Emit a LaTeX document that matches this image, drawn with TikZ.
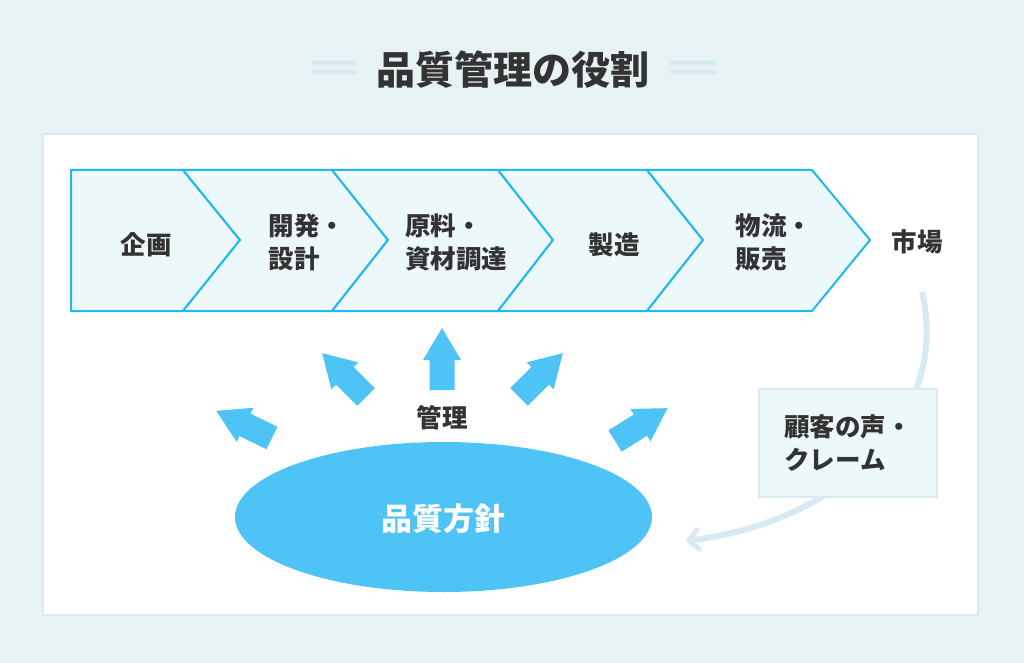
\documentclass[tikz,border=0pt]{standalone}
\usepackage{fontspec}
\setmainfont{Noto Sans CJK JP}
\usetikzlibrary{arrows.meta}
\definecolor{bgteal}{HTML}{E6F2F3}
\definecolor{panelline}{HTML}{D8ECEF}
\definecolor{chevline}{HTML}{22B8EC}
\definecolor{chevfill}{HTML}{EDF8FA}
\definecolor{skyblue}{HTML}{4EC3F6}
\definecolor{paleblue}{HTML}{D5EAF1}
\definecolor{inkgray}{HTML}{333333}
\tikzset{
  chev/.style={draw=chevline, fill=chevfill, line width=2pt, line join=miter},
  steptext/.style={text=inkgray, font=\bfseries\fontsize{25.5}{33}\selectfont, align=left, inner sep=0pt},
  blockarrow/.style={fill=skyblue},
  feedback/.style={draw=paleblue, line width=6pt, -{Straight Barb[length=10pt, width=22pt, line width=5pt]}},
}
\newcommand{\blockarrowat}[2]{%
  \fill[blockarrow, shift={#1}, rotate=#2]
    (0,-12.5) -- (30,-12.5) -- (30,-19) -- (62,0) -- (30,19) -- (30,12.5) -- (0,12.5) -- cycle;}
\begin{document}
\begin{tikzpicture}[x=1pt, y=-1pt]
  \useasboundingbox (0,0) rectangle (1024,663);
  \fill[bgteal] (0,0) rectangle (1024,663);

  % title with side rules
  \node[text=inkgray, font=\bfseries\fontsize{39}{42}\selectfont, inner sep=0pt] (title) at (513,70) {品質管理の役割};
  \foreach \yy in {63,72} {
    \draw[paleblue, line width=4pt] (312,\yy) -- (357,\yy);
    \draw[paleblue, line width=4pt] (670,\yy) -- (717,\yy);
  }

  % white panel
  \filldraw[fill=white, draw=panelline, line width=2pt] (43,134) rectangle (978,615);

  % process chevrons
  \draw[chev] (71,170) -- (183,170) -- (240,240) -- (183,311) -- (71,311) -- cycle;
  \draw[chev] (183,170) -- (332,170) -- (388,240) -- (332,311) -- (183,311) -- (240,240) -- cycle;
  \draw[chev] (332,170) -- (498,170) -- (553,240) -- (498,311) -- (332,311) -- (388,240) -- cycle;
  \draw[chev] (498,170) -- (647,170) -- (703,240) -- (647,311) -- (498,311) -- (553,240) -- cycle;
  \draw[chev] (647,170) -- (812,170) -- (870,240) -- (812,311) -- (647,311) -- (703,240) -- cycle;

  \node[steptext] (plan) at (146,245) {企画};
  \node[steptext] (design) at (307,242) {開発・\\設計};
  \node[steptext] (procure) at (456,242) {原料・\\資材調達};
  \node[steptext] (make) at (614,245) {製造};
  \node[steptext] (sales) at (774,242) {物流・\\販売};
  \node[steptext] (market) at (917,242) {市場};

  % feedback from the market back to the policy
  \coordinate (fbstart) at (922,292);
  \coordinate (fbend) at (686,541);
  \draw[feedback] (fbstart) .. controls (950,410) and (850,520) .. (fbend);
  \node[draw=paleblue, fill=chevfill, line width=2pt, minimum width=178pt, minimum height=108pt, inner sep=0pt] (voicebox) at (848,443) {};
  \node[steptext] (voice) at (voicebox.center) {顧客の声・\\クレーム};

  % quality policy and management arrows
  \fill[skyblue] (443.5,517) ellipse (208.5 and 75);
  \node[text=white, font=\bfseries\fontsize{31}{34}\selectfont, inner sep=0pt] (policy) at (443,519) {品質方針};
  \node[steptext] (mgmt) at (442,418) {管理};

  \blockarrowat{(272,438)}{154}
  \blockarrowat{(366,397)}{135}
  \blockarrowat{(442,390)}{90}
  \blockarrowat{(519,397)}{45}
  \blockarrowat{(615,441)}{32}
\end{tikzpicture}
\end{document}
